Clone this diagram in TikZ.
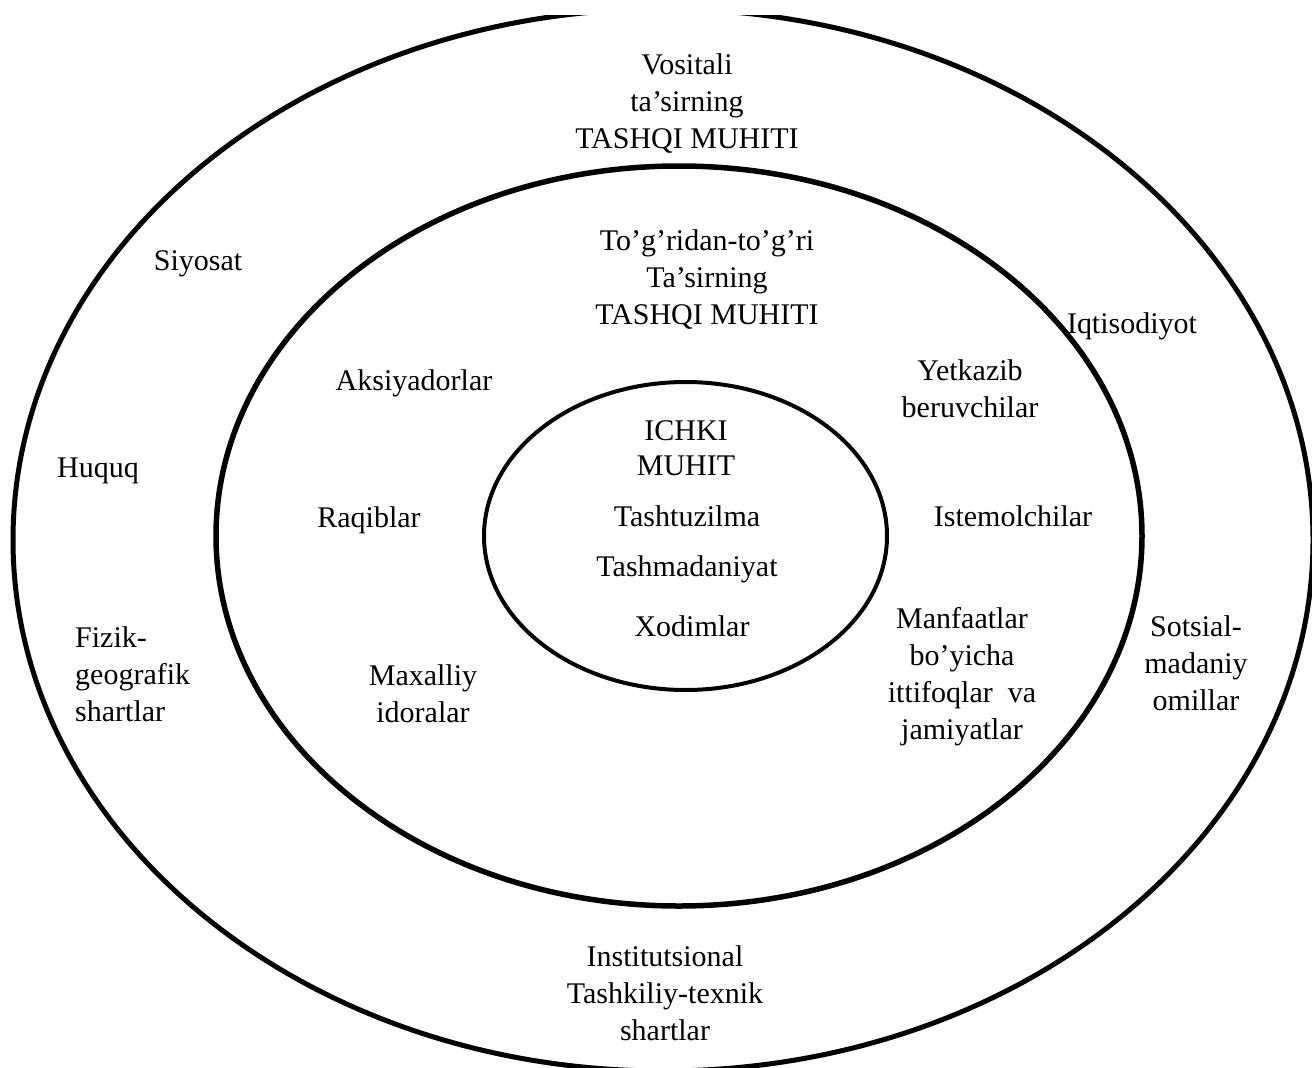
\documentclass[tikz,border=0pt]{standalone}
\usepackage{fontspec}
\setmainfont{Liberation Serif}
\begin{document}
\begin{tikzpicture}[x={(1pt,0)}, y={(0,-1pt)},
  ring/.style={draw=black, line width=#1},
  lbl/.style={font=\fontsize{30}{37}\selectfont, align=center, inner sep=0pt, text=black}]
\useasboundingbox[fill=white] (0,0) rectangle (1312,1068);

% outer ring, running past the page edges
\begin{scope}
  \clip (0,15) rectangle (1312,1067);
  \draw[ring=5pt] (663,540) ellipse [x radius=650, y radius=531];
\end{scope}
% middle and inner rings
\draw[ring=5.5pt] (679,536) ellipse [x radius=463, y radius=370];
\draw[ring=4pt] (685.5,536) ellipse [x radius=201.5, y radius=154];

% outer environment
\node[lbl] (vos) at (687,104) {Vositali\\ta’sirning\\TASHQI MUHITI};
\node[lbl] (siy) at (198,264) {Siyosat};
\node[lbl] (iqt) at (1132,326) {Iqtisodiyot};
\node[lbl] (huq) at (98,471) {Huquq};
\node[lbl, align=left, anchor=west] (fiz) at (75,674) {Fizik-\\geografik\\shartlar};
\node[lbl] (sot) at (1196,663) {Sotsial-\\madaniy\\omillar};
\node[lbl] (ins) at (665,993) {Institutsional\\Tashkiliy-texnik\\shartlar};

% direct environment
\node[lbl] (tog) at (707,280) {To’g’ridan-to’g’ri\\Ta’sirning\\TASHQI MUHITI};
\node[lbl] (aks) at (414,383) {Aksiyadorlar};
\node[lbl] (yet) at (970,389) {Yetkazib\\beruvchilar};
\node[lbl] (raq) at (369,520) {Raqiblar};
\node[lbl] (ist) at (1013,516) {Istemolchilar};
\node[lbl] (max) at (423,694) {Maxalliy\\idoralar};
\node[lbl] (man) at (962,677) {Manfaatlar\\bo’yicha\\ittifoqlar~~va\\jamiyatlar};

% internal environment
\node[lbl, font=\fontsize{30}{35}\selectfont] (ich) at (686,448) {ICHKI\\MUHIT};
\node[lbl] (tuz) at (687,516) {Tashtuzilma};
\node[lbl] (mad) at (687,569) {Tashmadaniyat};
\node[lbl] (xod) at (692,626) {Xodimlar};
\end{tikzpicture}
\end{document}
